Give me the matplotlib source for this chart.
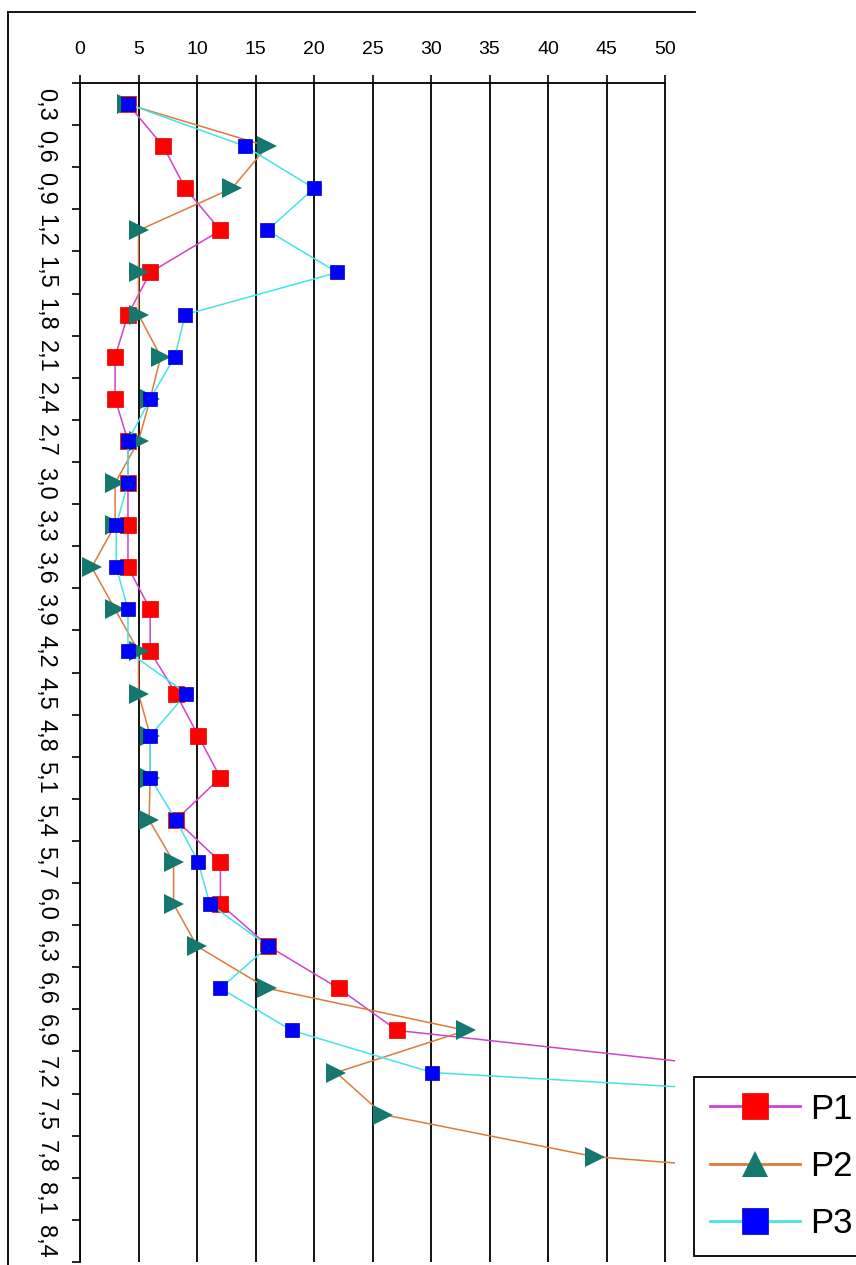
import numpy as np
import matplotlib
matplotlib.use("Agg")
from matplotlib import pyplot as plt
from matplotlib.lines import Line2D

plt.rcParams['font.family'] = ['Liberation Sans', 'DejaVu Sans']

# глубины (подписи оси Y) и значения трёх серий
depths = ['0,3', '0,6', '0,9', '1,2', '1,5', '1,8', '2,1', '2,4', '2,7', '3,0',
          '3,3', '3,6', '3,9', '4,2', '4,5', '4,8', '5,1', '5,4', '5,7', '6,0',
          '6,3', '6,6', '6,9', '7,2', '7,5', '7,8', '8,1', '8,4']
p1 = [4.1, 7.1, 9, 12, 6, 4.1, 3, 3, 4.1, 4.1, 4.1, 4.1, 6, 6, 8.2, 10.1,
      12, 8.2, 12, 12, 16.1, 22.1, 27.1, 60]
p2 = [4, 16, 13, 5, 5, 5, 6.9, 6, 5, 3, 3, 1, 3, 5, 5, 6, 6, 5.9, 8, 8,
      10, 16, 33, 21.9, 25.9, 44, 90]
p3 = [4.1, 14.1, 20, 16, 22, 9, 8.1, 6, 4.1, 4.1, 3.1, 3.1, 4.1, 4.1, 9.1,
      6, 6, 8.2, 10.1, 11.1, 16.1, 12, 18.1, 30.1, 92]
xticks = [0, 5, 10, 15, 20, 25, 30, 35, 40, 45, 50]

W, H = 856, 1265
fig = plt.figure(figsize=(W / 100, H / 100), dpi=100)
ax = fig.add_axes([80 / W, 3 / H, 595 / W, 1179 / H])

# серии: линия + маркеры
ax.plot(p1, np.arange(len(p1)), color='#cc44cc', lw=1.1,
        marker='s', ms=12, mfc='#ff0000', mec='#dd0000', mew=0.5, zorder=3)
ax.plot(p2, np.arange(len(p2)), color='#dd7a3c', lw=1.1,
        marker='>', ms=14.5, mfc='#15786f', mec='#15786f', mew=0, zorder=4)
ax.plot(p3, np.arange(len(p3)), color='#44e4e4', lw=1.1,
        marker='s', ms=9.5, mfc='#0000ff', mec='#0000aa', mew=0.5, zorder=5)

ax.set_xlim(0, 50.85)
ax.set_ylim(len(depths) - 0.5, -0.5)

# ось X сверху
ax.xaxis.tick_top()
ax.set_xticks(xticks)
ax.tick_params(axis='x', which='major', length=6, width=1.2, pad=12,
               labelsize=14, colors='black', direction='out')
ax.grid(True, axis='x', color='black', lw=1.3, zorder=1)

# ось Y: подписи по центрам, засечки на границах
ax.set_yticks(np.arange(len(depths)))
ax.set_yticklabels(depths, rotation=-90, va='center', ha='right')
ax.set_yticks(np.arange(len(depths) + 1) - 0.5, minor=True)
ax.tick_params(axis='y', which='major', length=0, pad=17, labelsize=17)
ax.tick_params(axis='y', which='minor', length=6, width=1.2, direction='out')

for s in ['right', 'bottom']:
    ax.spines[s].set_visible(False)
ax.spines['top'].set_bounds(0, 50)
ax.spines['top'].set_linewidth(1.3)
ax.spines['left'].set_linewidth(1.3)

# рамка рисунка (обрезана справа и снизу)
fig.add_artist(Line2D([8 / W, 695 / W], [1 - 12 / H, 1 - 12 / H],
                      transform=fig.transFigure, color='black', lw=1.3))
fig.add_artist(Line2D([8 / W, 8 / W], [1 - 12 / H, 0],
                      transform=fig.transFigure, color='black', lw=1.3))

# легенда
handles = [
    Line2D([], [], color='#cc44cc', lw=2, marker='s', ms=18.5,
           mfc='#ff0000', mec='#dd0000', mew=0.5),
    Line2D([], [], color='#dd7a3c', lw=2, marker='^', ms=19,
           mfc='#15786f', mec='#15786f', mew=0),
    Line2D([], [], color='#44e4e4', lw=2, marker='s', ms=18.5,
           mfc='#0000ff', mec='#0000aa', mew=0.5),
]
leg = fig.legend(handles, ['P1', 'P2', 'P3'], loc='upper left',
                 bbox_to_anchor=(694 / W, 1 - 1077 / H), borderaxespad=0,
                 fontsize=25, frameon=True, fancybox=False, framealpha=1,
                 handlelength=2.6, handletextpad=0.3, borderpad=0.45,
                 labelspacing=0.7)
leg.get_frame().set_edgecolor('black')
leg.get_frame().set_linewidth(1.3)

fig.savefig('out.png', dpi=100)
